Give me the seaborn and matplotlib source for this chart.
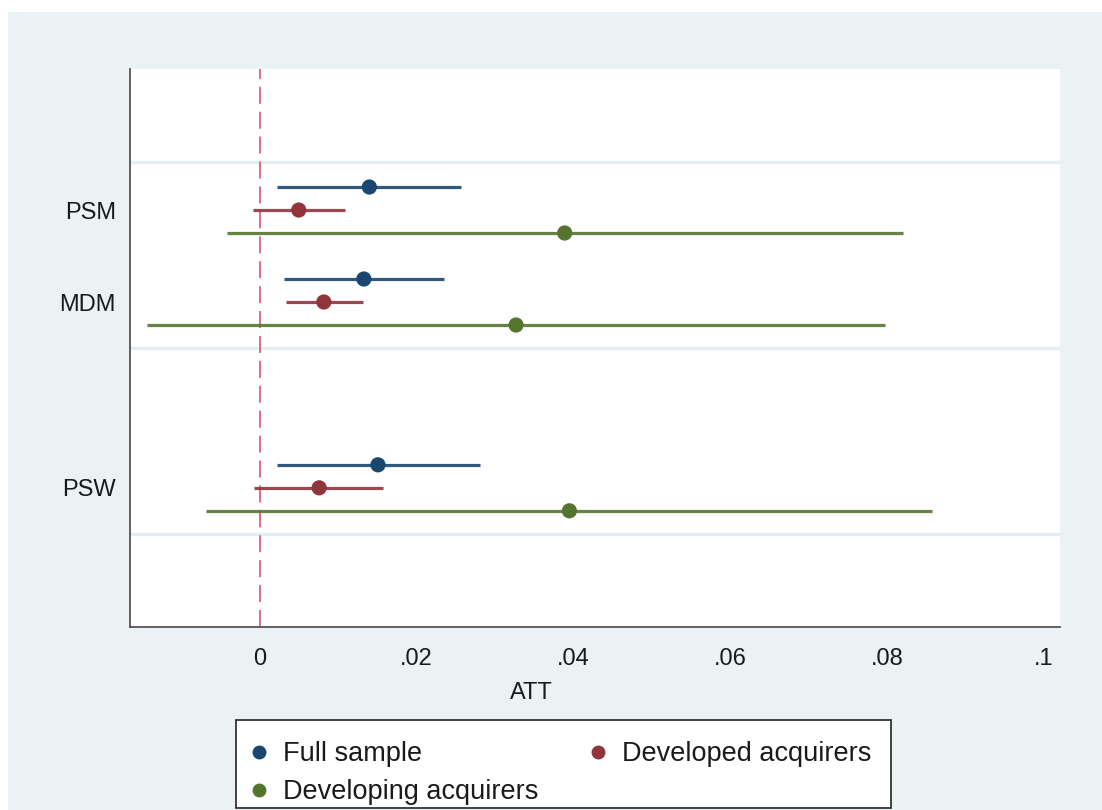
import numpy as np
import pandas as pd
import seaborn as sns
import matplotlib.pyplot as plt
from matplotlib.lines import Line2D
from matplotlib.patches import Rectangle

sns.set_theme(style="white")
plt.rcParams["font.family"] = ["Liberation Sans", "DejaVu Sans"]

# Matching methods (rows) and their vertical slots
methods = ["PSM", "MDM", "PSW"]
method_pos = [0.0, 1.0, 3.02]
separators = [-0.52, 1.5, 3.52]

# Sub-samples and colours
samples = ["Full sample", "Developed acquirers", "Developing acquirers"]
sample_offset = [-0.25, 0.0, 0.25]
palette = ["#1a476f", "#90353b", "#55752f"]

# ATT point estimates and confidence bounds (PSM, MDM, PSW)
full_att = [0.0140, 0.0133, 0.0151]
full_lo = [0.0022, 0.0031, 0.0022]
full_hi = [0.0257, 0.0235, 0.0281]

developed_att = [0.0050, 0.0082, 0.0076]
developed_lo = [-0.0008, 0.0034, -0.0007]
developed_hi = [0.0109, 0.0132, 0.0157]

developing_att = [0.0389, 0.0327, 0.0395]
developing_lo = [-0.0041, -0.0143, -0.0068]
developing_hi = [0.0820, 0.0797, 0.0857]

x_ticks = [0, 0.02, 0.04, 0.06, 0.08, 0.1]
x_tick_labels = ["0", ".02", ".04", ".06", ".08", ".1"]

est = [full_att, developed_att, developing_att]
lo = [full_lo, developed_lo, developing_lo]
hi = [full_hi, developed_hi, developing_hi]

rows = []
for s_i, s in enumerate(samples):
    for m_i, m in enumerate(methods):
        rows.append({
            "method": m,
            "sample": s,
            "y": method_pos[m_i] + sample_offset[s_i],
            "att": est[s_i][m_i],
            "lo": lo[s_i][m_i],
            "hi": hi[s_i][m_i],
        })
df = pd.DataFrame(rows)

W, H = 1102, 810
fig = plt.figure(figsize=(W / 100, H / 100), dpi=100)
fig.patch.set_facecolor("white")

# light outer graph region
fig.add_artist(Rectangle((8 / W, 0), 1 - 8 / W, 1 - 12 / H,
                         transform=fig.transFigure, facecolor="#eaf2f3",
                         edgecolor="none", zorder=0))

ax = fig.add_axes([130 / W, (H - 627) / H, 930 / W, (627 - 69) / H])
ax.set_facecolor("white")

for y in separators:
    ax.axhline(y, color="#e4eef0", lw=2.4, zorder=1)

ax.axvline(0, color="#d9617d", lw=1.3, dashes=(9.4, 4.4), zorder=2)

color_map = dict(zip(samples, palette))
for _, r in df.iterrows():
    ax.hlines(r["y"], r["lo"], r["hi"], color=color_map[r["sample"]],
              lw=2.3, alpha=0.9, zorder=3)

sns.scatterplot(data=df, x="att", y="y", hue="sample", hue_order=samples,
                palette=palette, s=120, edgecolor="none", linewidth=0,
                legend=False, ax=ax, zorder=4)

ax.set_xlim(-0.01651, 0.10204)
ax.set_ylim(4.533, -1.533)
ax.set_xticks(x_ticks)
ax.set_xticklabels(x_tick_labels)
ax.set_yticks(method_pos)
ax.set_yticklabels(methods)
ax.set_xlabel("")
ax.set_ylabel("")

for side in ["top", "right"]:
    ax.spines[side].set_visible(False)
for side in ["left", "bottom"]:
    ax.spines[side].set_color("#555555")
    ax.spines[side].set_linewidth(1.3)

ax.tick_params(axis="both", which="major", length=6, width=1.2,
               color="#666666", labelsize=17, labelcolor="#1a1a1a")
ax.tick_params(axis="x", pad=9)
ax.tick_params(axis="y", pad=4)

fig.text(531 / W, 1 - 693 / H, "ATT", ha="center", va="center",
         fontsize=17, color="#1a1a1a")

# legend frame
fig.add_artist(Rectangle((236 / W, (H - 808) / H), 655 / W, 88 / H,
                         transform=fig.transFigure, facecolor="white",
                         edgecolor="#333333", lw=1.3, zorder=5))

handles = [Line2D([], [], marker="o", linestyle="none", markersize=10,
                  markerfacecolor=c, markeredgecolor="none") for c in palette]
order = [0, 2, 1]
leg = fig.legend([handles[i] for i in order], [samples[i] for i in order],
                 ncol=2, loc="upper left",
                 bbox_to_anchor=(247 / W, 1 - 741 / H),
                 bbox_transform=fig.transFigure, frameon=False,
                 fontsize=19.5, borderpad=0, borderaxespad=0,
                 handlelength=0.9, handletextpad=0.44, columnspacing=1.74,
                 labelspacing=0.45)
leg.set_zorder(6)
for t in leg.get_texts():
    t.set_color("#1a1a1a")

fig.savefig("out.png", dpi=100, facecolor=fig.get_facecolor())
